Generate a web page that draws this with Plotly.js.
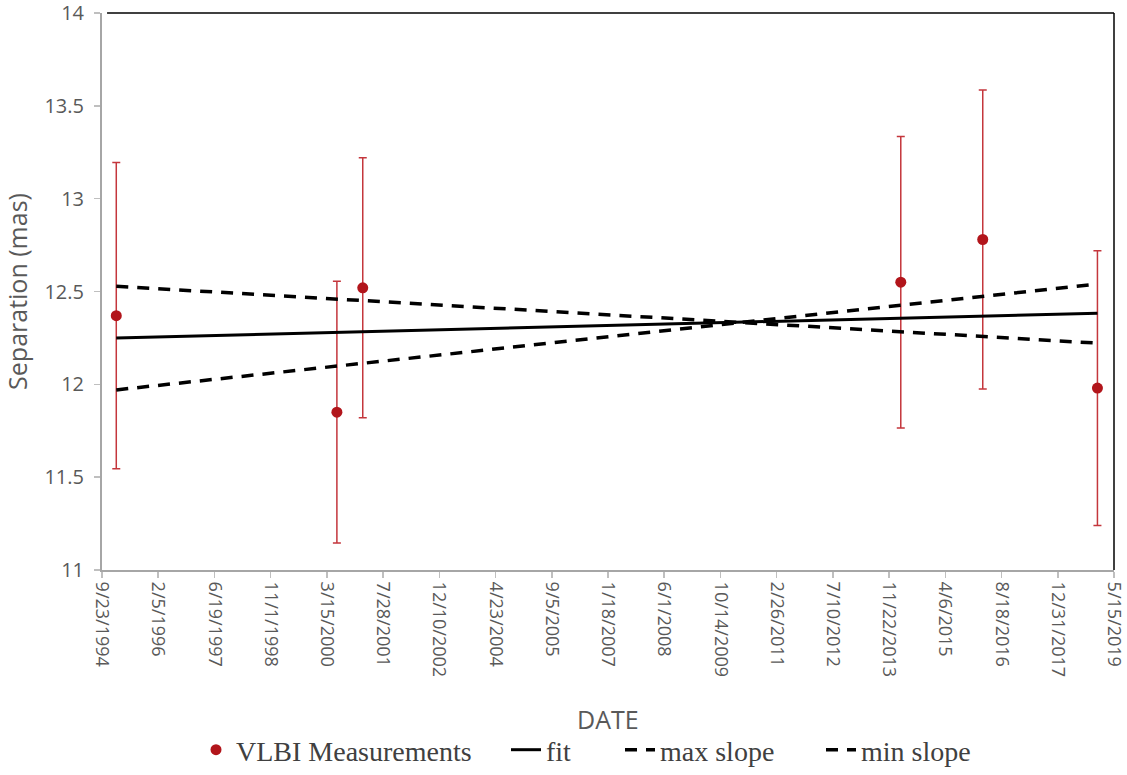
<!DOCTYPE html>
<html>
<head>
<meta charset="utf-8">
<script src="https://cdn.plot.ly/plotly-3.0.1.min.js"></script>
<style>html,body{margin:0;padding:0;background:#fff;}#chart{width:1127px;height:775px;}</style>
</head>
<body>
<div id="chart"></div>
<script>
const dates = ["1995-01-28", "2000-06-12", "2001-01-28", "2014-03-06", "2016-03-04", "2018-12-19"];
const separation = [12.37, 11.85, 12.52, 12.55, 12.78, 11.98];
const sepError = [0.825, 0.705, 0.70, 0.785, 0.805, 0.74];

// Fit lines (start / end)
const lineDates = ["1995-01-28", "2018-12-19"];
const fitValues = [12.25, 12.383];
const maxSlopeValues = [11.97, 12.54];
const minSlopeValues = [12.528, 12.222];

// Axis ticks (Excel date axis, major unit 500 days)
const tickLabels = ["9/23/1994","2/5/1996","6/19/1997","11/1/1998","3/15/2000","7/28/2001","12/10/2002","4/23/2004","9/5/2005","1/18/2007","6/1/2008","10/14/2009","2/26/2011","7/10/2012","11/22/2013","4/6/2015","8/18/2016","12/31/2017","5/15/2019"];
const tickDates = tickLabels.map(s => { const [m,d,y] = s.split('/'); return `${y}-${m.padStart(2,'0')}-${d.padStart(2,'0')}`; });
const yTicks = [11, 11.5, 12, 12.5, 13, 13.5, 14];
const xTitle = 'DATE';

const red = '#B2151B';
const lgFont = {family: 'Liberation Serif', size: 28, color: '#404040'};
const traces = [
  {x: dates, y: separation, type: 'scatter', mode: 'markers', name: 'VLBI Measurements', legend: 'legend',
   marker: {color: red, size: 11},
   error_y: {type: 'data', array: sepError, visible: true, color: '#C4363C', thickness: 1.5, width: 4}},
  {x: lineDates, y: fitValues, type: 'scatter', mode: 'lines', name: 'fit', legend: 'legend2',
   line: {color: '#000', width: 3}},
  {x: lineDates, y: maxSlopeValues, type: 'scatter', mode: 'lines', name: 'max slope', legend: 'legend3',
   line: {color: '#000', width: 3.5, dash: '12px,9px'}},
  {x: lineDates, y: minSlopeValues, type: 'scatter', mode: 'lines', name: 'min slope', legend: 'legend4',
   line: {color: '#000', width: 3.5, dash: '12px,9px'}}
];

function lg(xpx) {
  return {orientation: 'h', xref: 'container', yref: 'container', x: xpx / 1127, xanchor: 'left',
    y: 0, yanchor: 'bottom', font: lgFont, bgcolor: 'rgba(0,0,0,0)', borderwidth: 0};
}

const layout = {
  width: 1127, height: 775,
  margin: {l: 102, r: 13, t: 13, b: 205},
  paper_bgcolor: '#fff', plot_bgcolor: '#fff',
  showlegend: true,
  legend: lg(196),
  legend2: lg(506),
  legend3: lg(620),
  legend4: lg(821),
  xaxis: {
    type: 'date', range: ['1994-09-23', '2019-05-15 06:00'], automargin: false,
    tickmode: 'array', tickvals: tickDates, ticktext: tickLabels, tickangle: 90,
    ticklabeloverflow: 'allow',
    tickfont: {family: 'Open Sans', size: 18, color: '#595959'},
    showgrid: false, zeroline: false, showline: true, linecolor: '#A6A6A6', linewidth: 2,
    ticks: 'outside', ticklen: 6, tickcolor: '#BFBFBF', tickwidth: 1.5
  },
  yaxis: {
    range: [11, 14], automargin: false, tickmode: 'array', tickvals: yTicks, ticktext: yTicks.map(String),
    ticklabeloverflow: 'allow',
    tickfont: {family: 'Open Sans', size: 20, color: '#595959'}, ticklabelstandoff: 6,
    showgrid: false, zeroline: false, showline: true, linecolor: '#A6A6A6', linewidth: 2,
    ticks: 'outside', ticklen: 6, tickcolor: '#BFBFBF', tickwidth: 1.5,
    title: {text: 'Separation (mas)', font: {family: 'Open Sans', size: 25, color: '#595959'}, standoff: 10}
  },
  annotations: [
    {text: xTitle, xref: 'paper', yref: 'paper', x: 0.5, y: (570 - 719) / 557, xanchor: 'center', yanchor: 'middle',
     showarrow: false, font: {family: 'Open Sans', size: 25, color: '#595959'}}
  ],
  shapes: [
    {type: 'line', xref: 'paper', yref: 'paper', x0: 0.005, x1: 1, y0: 1, y1: 1, line: {color: '#000', width: 1.5}},
    {type: 'line', xref: 'paper', yref: 'paper', x0: 1, x1: 1, y0: 0, y1: 1, line: {color: '#000', width: 1.5}}
  ]
};

Plotly.newPlot('chart', traces, layout, {displayModeBar: false, staticPlot: true});
</script>
</body>
</html>
